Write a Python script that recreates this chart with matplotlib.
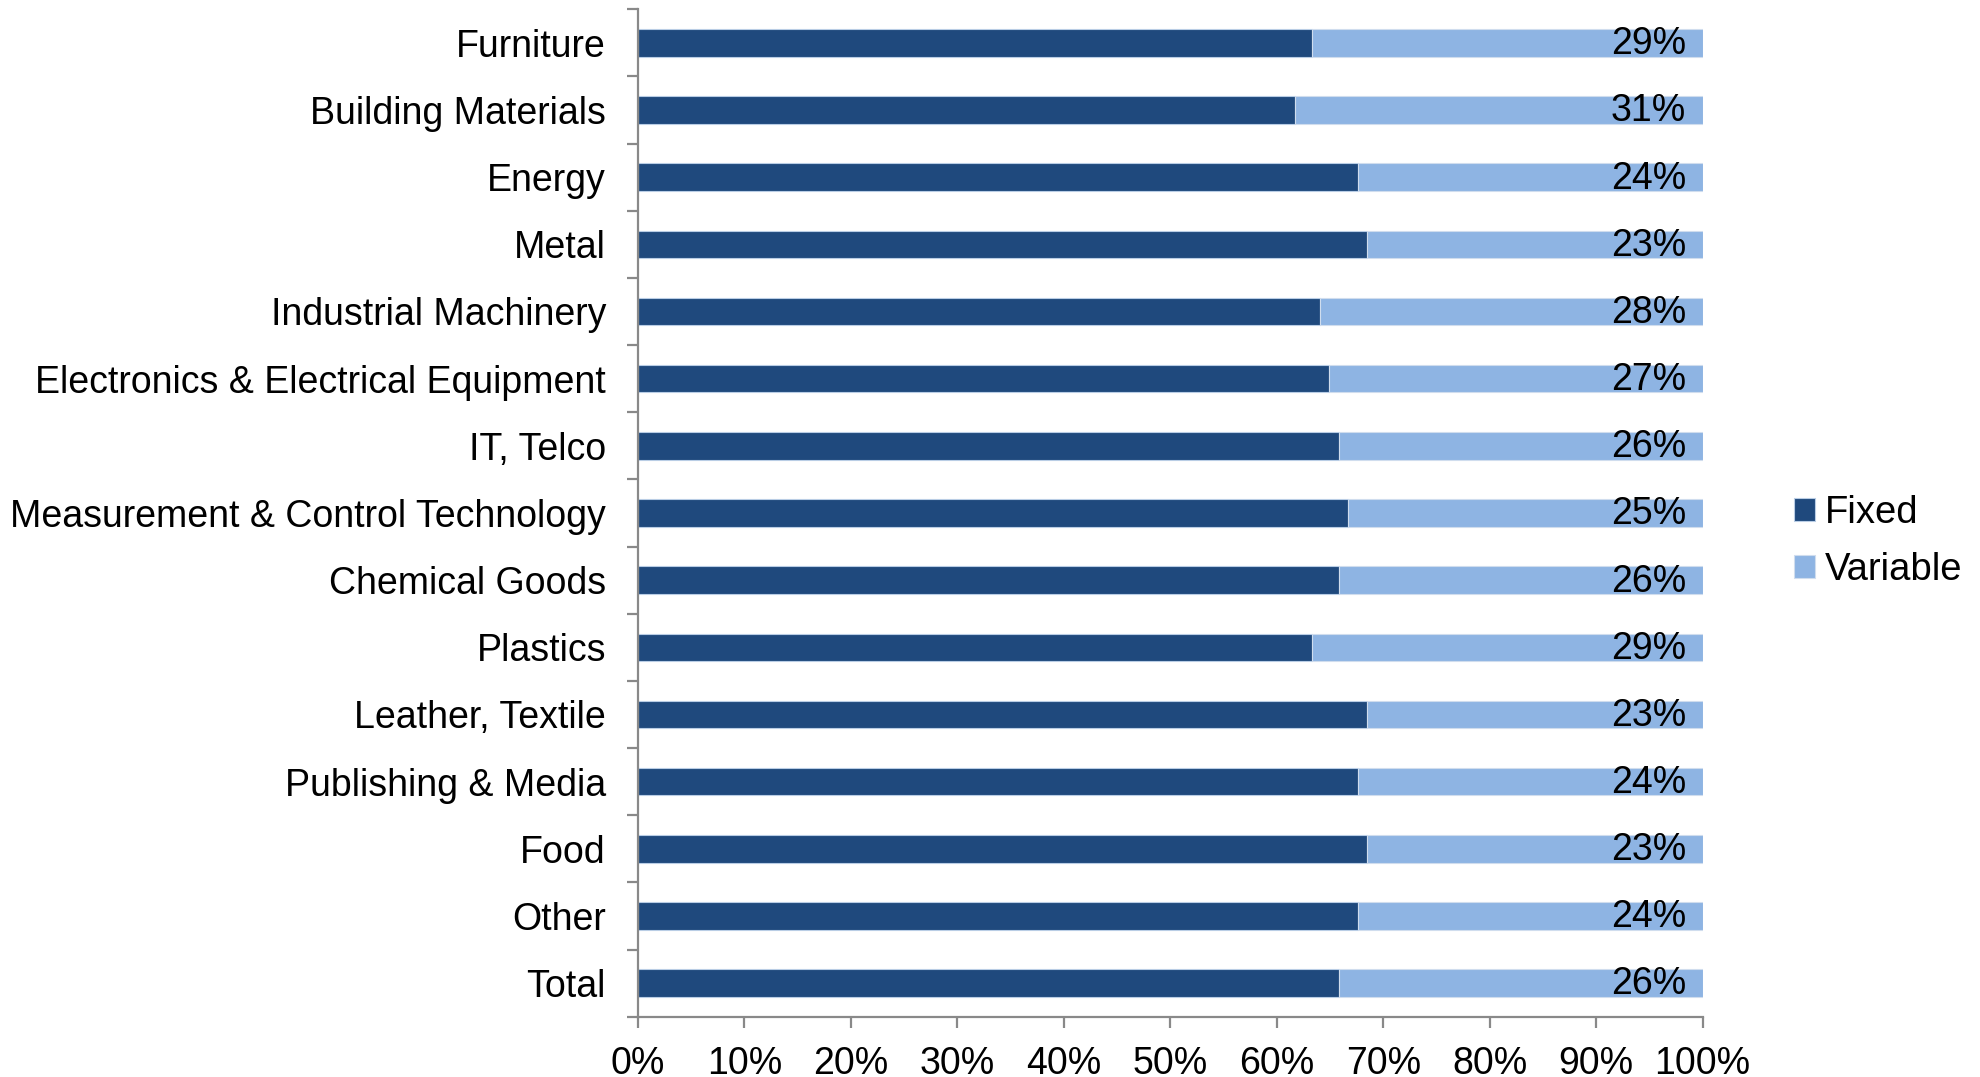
import numpy as np
import matplotlib
matplotlib.use("Agg")
import matplotlib.pyplot as plt
from matplotlib.ticker import FixedLocator, FuncFormatter

plt.rcParams['font.family'] = ['Liberation Sans', 'DejaVu Sans']

# industries, top to bottom
sectors = ["Furniture", "Building Materials", "Energy", "Metal",
           "Industrial Machinery", "Electronics & Electrical Equipment",
           "IT, Telco", "Measurement & Control Technology", "Chemical Goods",
           "Plastics", "Leather, Textile", "Publishing & Media", "Food",
           "Other", "Total"]
# fixed cost share of each bar (%)
fixed = [63.3, 61.7, 67.6, 68.5, 64.1, 64.9, 65.8, 66.7, 65.8,
         63.3, 68.5, 67.6, 68.5, 67.6, 65.8]
# printed variable cost share (%)
variable_pct = [29, 31, 24, 23, 28, 27, 26, 25, 26, 29, 23, 24, 23, 24, 26]

fixed = np.array(fixed)
variable = 100 - fixed
y = np.arange(len(sectors))

dark = "#1F497D"
light = "#8EB4E3"
axis_grey = "#898989"
fs = 27

fig = plt.figure(figsize=(19.81, 10.77), dpi=100)
ax = fig.add_axes([0.322, 0.056, 0.5375, 0.9354])

ax.barh(y, fixed, height=0.41, color=dark, edgecolor="#B9CDE5", linewidth=0.8,
        label="Fixed")
bars = ax.barh(y, variable, left=fixed, height=0.41, color=light,
               edgecolor="#D0DDEE", linewidth=0.8, label="Variable")

for b, v in zip(bars, variable_pct):
    ax.annotate(f"{v}%", (b.get_x() + b.get_width(), b.get_y() + b.get_height() / 2),
                xytext=(-12, -1), textcoords="offset points", ha="right",
                va="center", fontsize=fs, color="black")

ax.set_xlim(0, 100)
ax.set_ylim(len(sectors) - 0.5, -0.5)

ax.xaxis.set_major_locator(FixedLocator(np.arange(0, 101, 10)))
ax.xaxis.set_major_formatter(FuncFormatter(lambda v, p: f"{v:.0f}%"))
ax.tick_params(axis="x", direction="out", length=8, width=1.6, color=axis_grey,
               labelsize=fs, pad=13)

# category labels at the centres, tick marks at the borders between bars
ax.yaxis.set_major_locator(FixedLocator(np.arange(-0.5, len(sectors), 1.0)))
ax.yaxis.set_major_formatter(FuncFormatter(lambda v, p: ""))
ax.yaxis.set_minor_locator(FixedLocator(y))
ax.set_yticklabels(sectors, minor=True)
ax.tick_params(axis="y", which="major", direction="out", length=8, width=1.6,
               color=axis_grey)
ax.tick_params(axis="y", which="minor", length=0, labelsize=fs, pad=23)

for side in ["top", "right"]:
    ax.spines[side].set_visible(False)
for side in ["left", "bottom"]:
    ax.spines[side].set_color(axis_grey)
    ax.spines[side].set_linewidth(1.6)

fig.legend(loc="center left", bbox_to_anchor=(0.898, 0.497), frameon=False,
           fontsize=27.5, handlelength=0.55, handleheight=0.55, handletextpad=0.25,
           labelspacing=0.55, borderaxespad=0)

fig.savefig("out.png", dpi=100)
